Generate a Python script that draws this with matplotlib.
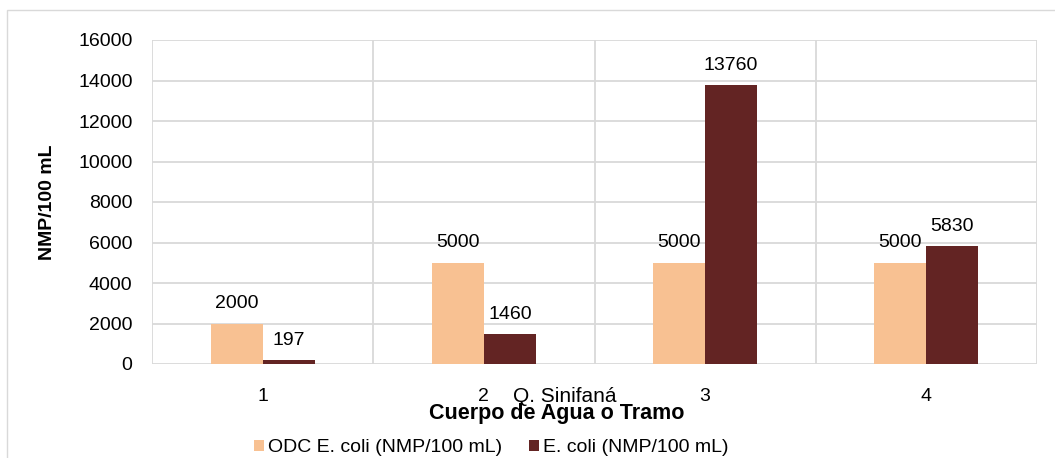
import numpy as np
import matplotlib.pyplot as plt
from matplotlib.patches import Rectangle

plt.rcParams['font.family'] = ['Liberation Sans', 'DejaVu Sans']

# data
categories = ['1', '2', '3', '4']
odc_values = [2000, 5000, 5000, 5000]
ecoli_values = [197, 1460, 13760, 5830]
series_names = ['ODC E. coli (NMP/100 mL)', 'E. coli (NMP/100 mL)']

colors = ['#F8C192', '#632423']
grid_color = '#D9D9D9'
fs = 14

fig = plt.figure(figsize=(10.55, 4.58), dpi=100)
ax = fig.add_axes([152/1055, 1 - 364/458, (1037 - 152)/1055, (364 - 40)/458])

# outer chart border
fig.patches.append(Rectangle((7/1055, -0.1), 1.2, 1 - 10/458 + 0.1,
                             transform=fig.transFigure, fill=False,
                             edgecolor=grid_color, linewidth=1))

x = np.arange(len(categories))
width = 0.235

bars1 = ax.bar(x - width/2, odc_values, width, color=colors[0], label=series_names[0], zorder=3)
bars2 = ax.bar(x + width/2, ecoli_values, width, color=colors[1], label=series_names[1], zorder=3)

for bars in (bars1, bars2):
    for b in bars:
        ax.annotate(f'{int(b.get_height())}', (b.get_x() + b.get_width()/2, b.get_height()),
                    xytext=(0, 11), textcoords='offset points', ha='center', va='baseline',
                    fontsize=fs, color='black', zorder=4)

ax.set_xlim(-0.5, len(categories) - 0.5)
ax.set_ylim(0, 16000)
ax.set_yticks(np.arange(0, 16001, 2000))
ax.set_xticks(x)
ax.set_xticklabels(categories)

# vertical grid at category boundaries
for b in np.arange(-0.5, len(categories), 1.0):
    ax.axvline(b, color=grid_color, linewidth=1.3, zorder=1)
ax.yaxis.grid(True, color=grid_color, linewidth=1.3, zorder=1)
ax.set_axisbelow(True)

for s in ax.spines.values():
    s.set_visible(False)
ax.tick_params(axis='both', length=0, labelsize=fs)
ax.tick_params(axis='x', pad=17)
ax.tick_params(axis='y', pad=14)

ax.set_ylabel('NMP/100 mL', fontsize=fs, fontweight='bold', labelpad=16)

# x axis title sits left of the plot centre in the original
fig.text(557/1055, 1 - 414/458, 'Cuerpo de Agua o Tramo', ha='center', va='center',
         fontsize=15.5, fontweight='bold')
fig.text(565/1055, 1 - 396/458, 'Q. Sinifaná', ha='center', va='center', fontsize=15)

fig.legend(handles=[bars1, bars2], labels=series_names, loc='center',
           bbox_to_anchor=(491/1055, 1 - 448/458), ncol=2, frameon=False,
           fontsize=fs, handlelength=0.5, handleheight=0.5, handletextpad=0.2,
           columnspacing=1.4)

fig.savefig('out.png', dpi=100)
